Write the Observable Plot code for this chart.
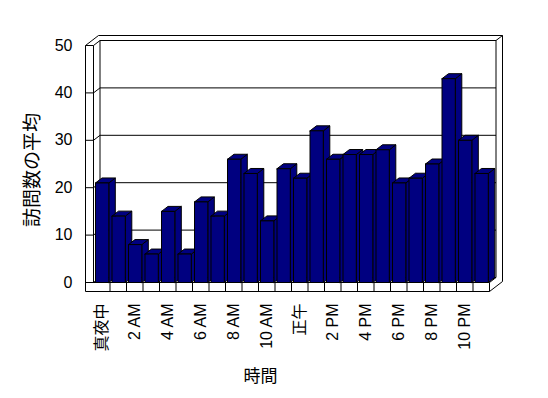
<!DOCTYPE html>
<html>
<head>
<meta charset="utf-8">
<script src="https://cdn.jsdelivr.net/npm/d3@7"></script>
<script src="https://cdn.jsdelivr.net/npm/@observablehq/plot@0.6"></script>
<style>
  html, body { margin: 0; padding: 0; background: #fff; }
  #chart svg { display: block; }
</style>
</head>
<body>
<div id="chart"></div>
<script>
// ---- data ----
const hours = [0,1,2,3,4,5,6,7,8,9,10,11,12,13,14,15,16,17,18,19,20,21,22,23];
const visits = [21,14,8,6,15,6,17,14,26,23,13,24,22,32,26,27,27,28,21,22,25,43,30,23];
const tickHours = [0,2,4,6,8,10,12,14,16,18,20,22];
const tickLabels = ["真夜中","2 AM","4 AM","6 AM","8 AM","10 AM","正午","2 PM","4 PM","6 PM","8 PM","10 PM"];
const yTicks = [0,10,20,30,40,50];
const xTitle = "時間";
const yTitle = "訪問数の平均";

// ---- layout ----
const W = 548, H = 398;
const mL = 93, mR = 59, mT = 45, mB = 116;
const xDomain = [0, 24], yDomain = [0, 50];
const pxX = (W - mL - mR) / (xDomain[1] - xDomain[0]);
const pxY = (H - mT - mB) / (yDomain[1] - yDomain[0]);
const du = 6.5 / pxX;   // depth (x) in data units
const dv = 5 / pxY;     // depth (y) in data units
const tw = 8 / pxX;     // side wall thickness
const ft = 9 / pxY;     // floor thickness
const bx0 = 2 / pxX, bx1 = 15.3 / pxX; // bar inset / right edge within category
const yMax = yDomain[1], xMax = xDomain[1];

// bar faces as polygons (painter order: side, top, front per bar)
const faces = [];
hours.forEach((h, i) => {
  const v = visits[i], x0 = h + bx0, x1 = h + bx1;
  const side = [[x1,0],[x1+du,dv],[x1+du,v+dv],[x1,v],[x1,0]];
  const topF = [[x0,v],[x1,v],[x1+du,v+dv],[x0+du,v+dv],[x0,v]];
  const front = [[x0,0],[x1,0],[x1,v],[x0,v],[x0,0]];
  [side, topF, front].forEach((poly, j) => poly.forEach(([x, y]) => faces.push({id: i*3+j, x, y})));
});

// frame segments
const seg = [];
const L = (x1,y1,x2,y2) => seg.push({x1,y1,x2,y2});
yTicks.forEach(v => {
  L(du, v+dv, xMax+du, v+dv);      // back wall gridline
  L(0, v, du, v+dv);               // side wall diagonal
  L(-tw, v, 0, v);                 // tick on side wall front
});
L(du, dv, du, yMax+dv);                        // back-left corner
L(xMax+du, dv, xMax+du, yMax+dv);              // back wall inner right
L(-tw, yMax, -tw, -ft);                        // side wall outer front edge
L(0, yMax, 0, 0);                              // side wall inner front edge
L(-tw, yMax, -tw+2*du, yMax+2*dv);             // side wall top diagonal
L(-tw+2*du, yMax+2*dv, xMax+2*du, yMax+2*dv);  // outer top
L(xMax+du, yMax+dv, xMax+2*du, yMax+2*dv);     // top-right diagonal
L(xMax+2*du, yMax+2*dv, xMax+2*du, -ft+2*dv);  // outer right
L(-tw, 0, xMax, 0);                            // floor top front
L(-tw, -ft, xMax, -ft);                        // floor bottom front
L(xMax, 0, xMax, -ft);                         // floor right front
L(xMax, 0, xMax+du, dv);                       // floor diag
L(xMax, -ft, xMax+2*du, -ft+2*dv);             // floor outer diag
hours.slice(1).forEach(h => L(h, 0, h, -ft));  // floor divisions

const plot = Plot.plot({
  width: W, height: H,
  marginLeft: mL, marginRight: mR, marginTop: mT, marginBottom: mB,
  x: {domain: xDomain, axis: null},
  y: {domain: yDomain, axis: null},
  style: {fontFamily: "'Liberation Sans', 'Noto Sans CJK JP', sans-serif", fontSize: "16px", background: "#fff", color: "#000"},
  marks: [
    Plot.link(seg, {x1: "x1", y1: "y1", x2: "x2", y2: "y2", stroke: "#000", strokeWidth: 1}),
    Plot.line(faces, {x: "x", y: "y", z: "id", fill: "#000080", stroke: "#000", strokeWidth: 1, strokeLinejoin: "miter", curve: "linear"}),
    Plot.text(yTicks, {x: -tw, y: d => d, dx: -13, textAnchor: "end", text: d => String(d), fontSize: 16, fill: "#000"}),
    Plot.text(tickHours, {x: d => d + 0.5, y: 0, dy: 21, rotate: -90, textAnchor: "end", text: (d, i) => tickLabels[i], fontSize: 16, fill: "#000"}),
    Plot.text([xTitle], {x: 12, y: 0, dx: -31, dy: 94, text: d => d, fontSize: 17, fill: "#000"}),
    Plot.text([yTitle], {x: -tw, y: 25, dx: -53, dy: 6, rotate: -90, text: d => d, fontSize: 19, fill: "#000"})
  ]
});
document.getElementById("chart").appendChild(plot);
</script>
</body>
</html>
